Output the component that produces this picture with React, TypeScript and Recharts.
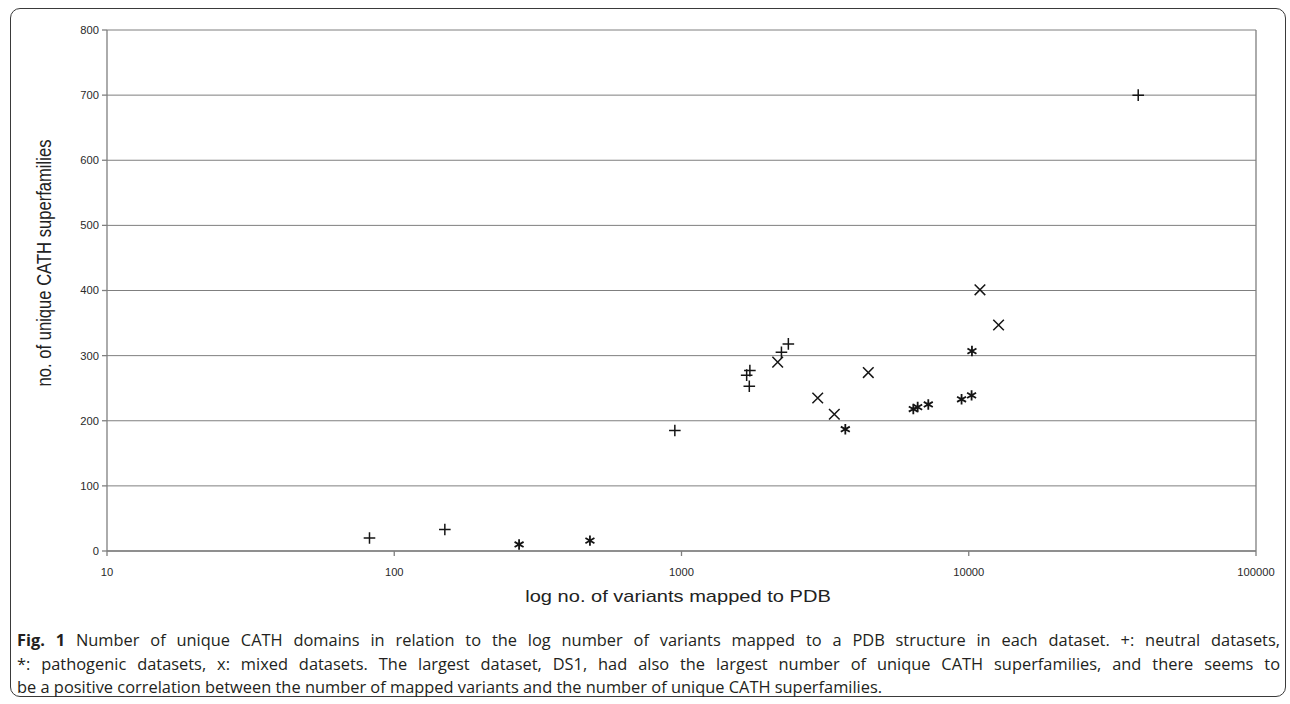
import React from "react";
import { ScatterChart, Scatter, XAxis, YAxis, CartesianGrid, ReferenceLine } from "recharts";

// Data
const neutralData = [
  { x: 82, y: 20 },
  { x: 150, y: 33 },
  { x: 948, y: 185 },
  { x: 1722, y: 253 },
  { x: 1686, y: 270 },
  { x: 1730, y: 277 },
  { x: 2228, y: 305 },
  { x: 2355, y: 318 },
  { x: 38900, y: 700 },
];
const pathogenicData = [
  { x: 272, y: 10 },
  { x: 480, y: 16 },
  { x: 3718, y: 187 },
  { x: 6412, y: 218 },
  { x: 6640, y: 221 },
  { x: 7230, y: 225 },
  { x: 9440, y: 233 },
  { x: 10230, y: 239 },
  { x: 10260, y: 307 },
];
const mixedData = [
  { x: 2162, y: 290 },
  { x: 2980, y: 235 },
  { x: 3404, y: 210 },
  { x: 4470, y: 274 },
  { x: 10940, y: 401 },
  { x: 12700, y: 347 },
];
const xTicks = [10, 100, 1000, 10000, 100000];
const yTicks = [0, 100, 200, 300, 400, 500, 600, 700, 800];

const xTitle = "log no. of variants mapped to PDB";
const yTitle = "no. of unique CATH superfamilies";
const captionBold = "Fig. 1";
const captionLines = [
  " Number of unique CATH domains in relation to the log number of variants mapped to a PDB structure in each dataset. +: neutral datasets,",
  "*: pathogenic datasets, x: mixed datasets. The largest dataset, DS1, had also the largest number of unique CATH superfamilies, and there seems to",
  "be a positive correlation between the number of mapped variants and the number of unique CATH superfamilies.",
];

const MARK = "#151515";

const PlusShape = (props: any) => {
  const { cx, cy } = props;
  const s = 5.8;
  return (
    <path
      d={`M${cx - s},${cy}H${cx + s}M${cx},${cy - s}V${cy + s}`}
      stroke={MARK}
      strokeWidth={1.5}
      fill="none"
    />
  );
};

const CrossShape = (props: any) => {
  const { cx, cy } = props;
  const s = 5.3;
  return (
    <path
      d={`M${cx - s},${cy - s}L${cx + s},${cy + s}M${cx + s},${cy - s}L${cx - s},${cy + s}`}
      stroke={MARK}
      strokeWidth={1.5}
      fill="none"
    />
  );
};

const StarShape = (props: any) => {
  const { cx, cy } = props;
  const r = 5.2;
  const dx = r * Math.sin(Math.PI / 3);
  const dy = r * Math.cos(Math.PI / 3);
  return (
    <path
      d={`M${cx},${cy - r}V${cy + r}M${cx - dx},${cy - dy}L${cx + dx},${cy + dy}M${cx + dx},${cy - dy}L${cx - dx},${cy + dy}`}
      stroke={MARK}
      strokeWidth={1.8}
      fill="none"
    />
  );
};

const AXIS = "#7f7f7f";
const tickStyle = { fill: "#2a2a2a", fontSize: 11.2, fontFamily: "'Liberation Sans', Arial, sans-serif" };

export default function App() {
  return (
    <div style={{ position: "absolute", left: 0, top: 0, width: 1290, height: 704, background: "#fff", overflow: "hidden" }}>
      <div
        style={{
          position: "absolute",
          left: 10,
          top: 8,
          width: 1276,
          height: 689,
          border: "1.5px solid #3a3a3a",
          borderRadius: 10,
          boxSizing: "border-box",
        }}
      />
      <div style={{ position: "absolute", left: 0, top: 0 }}>
        <ScatterChart width={1290} height={600} margin={{ top: 30, right: 34, bottom: 19, left: 57 }}>
          <CartesianGrid vertical={false} stroke={AXIS} strokeWidth={1} />
          <XAxis
            type="number"
            dataKey="x"
            scale="log"
            domain={[10, 100000]}
            ticks={xTicks}
            allowDataOverflow
            height={30}
            stroke={AXIS}
            strokeWidth={1.3}
            tickSize={5}
            tickMargin={12}
            tick={tickStyle}
            interval={0}
          />
          <YAxis
            type="number"
            dataKey="y"
            domain={[0, 800]}
            ticks={yTicks}
            width={50}
            stroke={AXIS}
            strokeWidth={1.3}
            tickSize={5}
            tickMargin={3}
            tick={tickStyle}
            interval={0}
          />
          <ReferenceLine x={100000} stroke={AXIS} strokeWidth={1.3} />
          <Scatter data={neutralData} shape={PlusShape} isAnimationActive={false} />
          <Scatter data={pathogenicData} shape={StarShape} isAnimationActive={false} />
          <Scatter data={mixedData} shape={CrossShape} isAnimationActive={false} />
        </ScatterChart>
      </div>
      <div
        style={{
          position: "absolute",
          left: 677.5,
          top: 597,
          transform: "translate(-50%, -50%) scaleX(1.18)",
          whiteSpace: "nowrap",
          fontFamily: "'Liberation Sans', Arial, sans-serif",
          fontSize: 17,
          color: "#222",
        }}
      >
        {xTitle}
      </div>
      <div
        style={{
          position: "absolute",
          left: 44.6,
          top: 263,
          transform: "translate(-50%, -50%) rotate(-90deg) scaleY(1.18)",
          whiteSpace: "nowrap",
          fontFamily: "'Liberation Sans', Arial, sans-serif",
          fontSize: 16.6,
          color: "#222",
        }}
      >
        {yTitle}
      </div>
      {captionLines.map((line, i) => (
        <div
          key={i}
          style={{
            position: "absolute",
            left: 17,
            top: 628 + i * 23.5,
            width: 1263,
            lineHeight: "23.5px",
            fontFamily: "'Open Sans', 'Noto Sans', sans-serif",
            fontSize: 16.4,
            color: "#231f20",
            whiteSpace: "nowrap",
            textAlign: i < 2 ? "justify" : "left",
            textAlignLast: i < 2 ? "justify" : "left",
          }}
        >
          {i === 0 ? <b style={{ fontWeight: 700 }}>{captionBold}</b> : null}
          {line}
        </div>
      ))}
    </div>
  );
}
